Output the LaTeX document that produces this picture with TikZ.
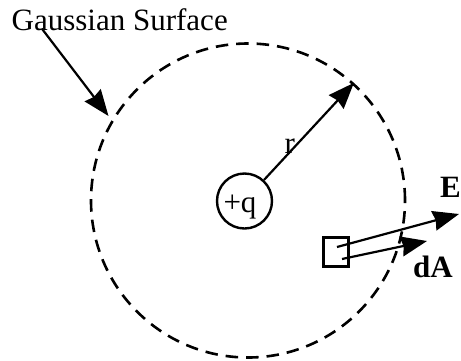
\documentclass[tikz,border=0pt]{standalone}
\usepackage{fontspec}
\setmainfont{Liberation Serif}
\usetikzlibrary{arrows.meta}
\begin{document}
\begin{tikzpicture}[x=1pt,y=-1pt,
  lbl/.style={inner sep=0pt, font=\fontsize{31}{34}\selectfont},
  blbl/.style={inner sep=0pt, font=\fontsize{31}{34}\selectfont\bfseries},
  arr/.style={line width=2.2pt, -{Stealth[length=26pt,width=20pt,inset=2pt]}},
  gauss/.style={draw, circle, line width=2.6pt, dash pattern=on 12.5pt off 8pt, inner sep=0pt},
  charge/.style={circle, draw, line width=2.4pt, minimum size=55pt, inner sep=0pt},
  patch/.style={rectangle, draw, line width=2.6pt, minimum width=25.5pt, minimum height=29pt, inner sep=0pt}]
\path[use as bounding box] (0,0) rectangle (461,360);
\node[gauss, minimum size=314pt] (surf) at (248,200.5) {};
\node[charge] (q) at (244.5,201) {};
\node[lbl, anchor=base] (qtext) at (240,212) {+q};
\coordinate (rtip) at (surf.48);
\draw[arr] (q) -- (rtip);
\node[lbl, anchor=base west] (rlabel) at (284.5,153) {r};
\node[lbl, anchor=base west] (gs) at (11.5,30) {Gaussian Surface};
\coordinate (gtip) at (108.5,116);
\draw[arr] ([xshift=30.5pt,yshift=1.7pt]gs.south west) -- (gtip);
\node[patch] (box) at (336,252) {};
\coordinate (etip) at (459,214);
\coordinate (datip) at (427,241);
\draw[arr] ([xshift=1pt,yshift=5pt]box.center) -- (etip);
\draw[arr] ([xshift=6pt,yshift=-7pt]box.center) -- (datip);
\node[blbl, anchor=base west] (E) at (440,197) {E};
\node[blbl, anchor=base west] (dA) at (413,277) {dA};
\end{tikzpicture}
\end{document}
